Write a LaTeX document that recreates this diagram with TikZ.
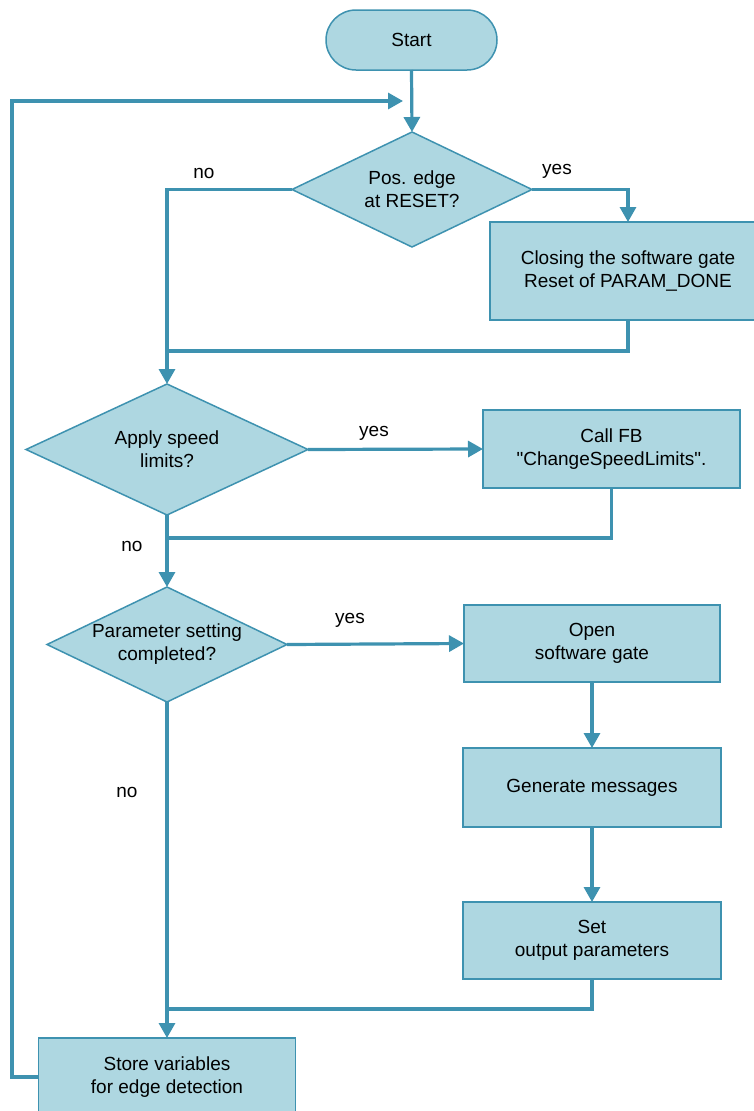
\documentclass[tikz,border=0pt]{standalone}
\usepackage{fontspec}
\setmainfont{Liberation Sans}[Ligatures=TeXOff]
\usetikzlibrary{shapes.geometric,arrows.meta}
\definecolor{boxfill}{RGB}{174,215,225}
\definecolor{lineblue}{RGB}{62,146,176}
\tikzset{
  every node/.style={font=\fontsize{19}{23}\selectfont, text=black},
  procbox/.style={draw=lineblue, fill=boxfill, line width=1.5pt, rectangle, align=center, inner sep=0pt, outer sep=0pt},
  startbox/.style={draw=lineblue, fill=boxfill, line width=1.5pt, rectangle, rounded corners=30pt, align=center, inner sep=0pt, outer sep=0pt, minimum width=171pt, minimum height=60pt},
  decision/.style={draw=lineblue, fill=boxfill, line width=1.5pt, diamond, inner sep=0pt, outer sep=0pt},
  conn/.style={draw=lineblue, line width=3.2pt},
  arr/.style={conn, -{Triangle[length=15pt,width=16pt]}},
  lbl/.style={inner sep=0pt}
}
\begin{document}
\begin{tikzpicture}[x=1pt,y=-1pt]
\useasboundingbox (0,0) rectangle (754,1111);
\clip (0,0) rectangle (754,1111);
\fill[white] (0,0) rectangle (754,1111);

% nodes
\node[startbox] (start) at (411.5,40) {Start};
\node[decision, minimum width=240pt, minimum height=115pt,
      label={[align=center]center:Pos. edge\\at RESET?}] (d1) at (412,189.5) {};
\node[procbox, minimum width=276pt, minimum height=98pt] (b1) at (628,271) {Closing the software gate\\Reset of PARAM\_DONE};
\node[decision, minimum width=282pt, minimum height=131pt,
      label={[align=center]center:Apply speed\\limits?}] (d2) at (167,449.5) {};
\node[procbox, minimum width=257pt, minimum height=78pt] (b2) at (611.5,449) {Call FB\\"ChangeSpeedLimits".};
\node[decision, minimum width=240pt, minimum height=115pt,
      label={[align=center]center:Parameter setting\\completed?}] (d3) at (167,644.5) {};
\node[procbox, minimum width=256pt, minimum height=77pt] (b3) at (592,643.5) {Open\\software gate};
\node[procbox, minimum width=258pt, minimum height=79pt] (b4) at (592,787.5) {Generate messages};
\node[procbox, minimum width=258pt, minimum height=77pt] (b5) at (592,940.5) {Set\\output parameters};
\node[procbox, minimum width=257pt, minimum height=78pt] (store) at (167,1077) {Store variables\\for edge detection};

% labels
\node[lbl] (l1) at (204,173) {no};
\node[lbl] (l2) at (557,171) {yes};
\node[lbl] (l3) at (374,433) {yes};
\node[lbl] (l4) at (132,546) {no};
\node[lbl] (l5) at (350,620) {yes};
\node[lbl] (l6) at (127,792) {no};

% helper coordinates
\coordinate (loopend) at (403,101);
\coordinate (m1) at (167,351);
\coordinate (m2) at (167,538);
\coordinate (m3) at (167,1009);

% connectors
\draw[arr] (start.south) -- (d1.north);
\draw[arr] (store.west) -| (12,101) -- (loopend);
\draw[arr] (d1.east) -| (b1.north);
\draw[arr] (d1.west) -| (d2.north);
\draw[conn] (b1.south) |- (m1);
\draw[arr] (d2.east) -- (b2.west);
\draw[conn] (b2.south) |- (m2);
\draw[arr] (d2.south) -- (d3.north);
\draw[arr] (d3.east) -- (b3.west);
\draw[arr] (b3.south) -- (b4.north);
\draw[arr] (b4.south) -- (b5.north);
\draw[conn] (b5.south) |- (m3);
\draw[arr] (d3.south) -- (store.north);
\end{tikzpicture}
\end{document}
